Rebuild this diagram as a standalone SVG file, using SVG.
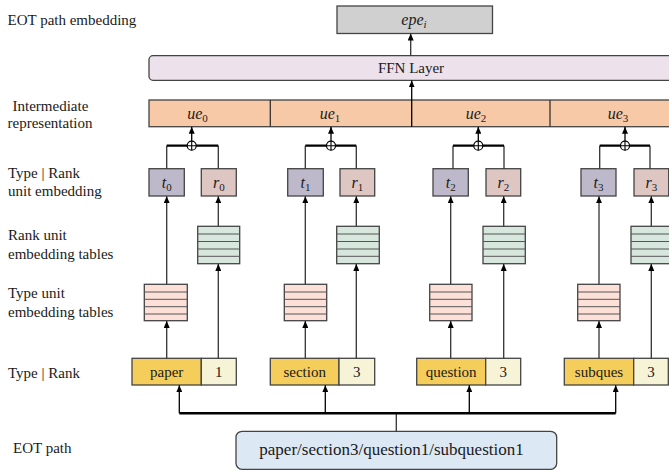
<svg xmlns="http://www.w3.org/2000/svg" width="669" height="471" viewBox="0 0 669 471">
<defs>
<style>
.lbl{font-family:"Liberation Serif","Times New Roman",serif;font-size:15px;fill:#1a1a1a}
.mid{text-anchor:middle}
.math{font-family:"Liberation Serif","Times New Roman",serif;font-style:italic;font-size:16px;fill:#1a1a1a;text-anchor:middle}
.sub{font-style:normal;font-size:11px}
.box{stroke:#444;stroke-width:1.3}
.tbox{fill:#bdb9cb}
.rbox{fill:#dec6c2}
.gtab{fill:#d7e7dd;stroke:#444;stroke-width:1.3}
.ptab{fill:#fde1d9;stroke:#444;stroke-width:1.3}
.row{stroke:#555;stroke-width:1}
.typ{fill:#f4cd5b}
.rnk{fill:#f7f3d6}
.ln{stroke:#333;stroke-width:1.3;fill:none}
.thick{stroke:#000;stroke-width:2.2;fill:none}
.bus{stroke:#000;stroke-width:2.6;fill:none}
</style>
<marker id="ah" viewBox="0 0 7 6" refX="7" refY="3" markerWidth="7" markerHeight="6" markerUnits="userSpaceOnUse" orient="auto">
<path d="M0,0 L7,3 L0,6 z" fill="#000"/>
</marker>
</defs>
<rect width="669" height="471" fill="#fff"/>

<!-- left labels -->
<g id="labels">
<text class="lbl" x="7.5" y="25">EOT path embedding</text>
<text class="lbl" x="12.5" y="111">Intermediate</text>
<text class="lbl" x="7.5" y="127.5">representation</text>
<text class="lbl" x="8" y="177.5">Type | Rank</text>
<text class="lbl" x="8" y="195.5">unit embedding</text>
<text class="lbl" x="8" y="240">Rank unit</text>
<text class="lbl" x="8" y="258.5">embedding tables</text>
<text class="lbl" x="8" y="298">Type unit</text>
<text class="lbl" x="8" y="316.5">embedding tables</text>
<text class="lbl" x="8" y="377.5">Type | Rank</text>
<text class="lbl" x="13" y="453">EOT path</text>
</g>

<g id="epe">
<rect x="337" y="6" width="155.5" height="27.5" fill="#d0d0d0" stroke="#444" stroke-width="1.3"/>
<text class="math" x="414" y="24.5">epe<tspan class="sub" dy="3" style="font-style:italic">i</tspan></text>
</g>

<g id="ffn">
<rect x="149" y="55.7" width="530" height="24.6" rx="4" fill="#ede2ec" stroke="#444" stroke-width="1.3"/>
<text class="lbl mid" x="411" y="72.5">FFN Layer</text>
</g>

<g id="ue">
<rect x="149" y="100" width="530" height="26.7" fill="#f7c9a7" stroke="#444" stroke-width="1.3"/>
<line x1="270.3" y1="100" x2="270.3" y2="126.7" class="ln"/>
<line x1="550" y1="100" x2="550" y2="126.7" class="ln"/>
<text class="math" x="197.5" y="118.5">ue<tspan class="sub" dy="3">0</tspan></text>
<text class="math" x="330" y="118.5">ue<tspan class="sub" dy="3">1</tspan></text>
<text class="math" x="476" y="118.5">ue<tspan class="sub" dy="3">2</tspan></text>
<text class="math" x="618" y="118.5">ue<tspan class="sub" dy="3">3</tspan></text>
</g>

<!-- unit embeddings -->
<g id="t0"><rect class="box tbox" x="149" y="168.7" width="35.3" height="27.3"/><text class="math" x="166.7" y="188">t<tspan class="sub" dy="3">0</tspan></text></g>
<g id="r0"><rect class="box rbox" x="201.3" y="168.7" width="35" height="27.3"/><text class="math" x="218.8" y="188">r<tspan class="sub" dy="3">0</tspan></text></g>
<g id="t1"><rect class="box tbox" x="287.7" y="168.7" width="35.6" height="27.3"/><text class="math" x="305.5" y="188">t<tspan class="sub" dy="3">1</tspan></text></g>
<g id="r1"><rect class="box rbox" x="340" y="168.7" width="34.7" height="27.3"/><text class="math" x="357.3" y="188">r<tspan class="sub" dy="3">1</tspan></text></g>
<g id="t2"><rect class="box tbox" x="433" y="168.7" width="35.3" height="27.3"/><text class="math" x="450.7" y="188">t<tspan class="sub" dy="3">2</tspan></text></g>
<g id="r2"><rect class="box rbox" x="486" y="168.7" width="34.7" height="27.3"/><text class="math" x="503.4" y="188">r<tspan class="sub" dy="3">2</tspan></text></g>
<g id="t3"><rect class="box tbox" x="581" y="168.7" width="35" height="27.3"/><text class="math" x="598.5" y="188">t<tspan class="sub" dy="3">3</tspan></text></g>
<g id="r3"><rect class="box rbox" x="634" y="168.7" width="34.7" height="27.3"/><text class="math" x="651.3" y="188">r<tspan class="sub" dy="3">3</tspan></text></g>

<!-- rank embedding tables -->
<g id="rank_table_0"><rect class="gtab" x="197.7" y="226.3" width="42" height="37.4"/><path class="row" d="M197.7,234H239.7M197.7,241.5H239.7M197.7,249H239.7M197.7,256.3H239.7"/></g>
<g id="rank_table_1"><rect class="gtab" x="336.7" y="226.3" width="42.6" height="37.4"/><path class="row" d="M336.7,234H379.3M336.7,241.5H379.3M336.7,249H379.3M336.7,256.3H379.3"/></g>
<g id="rank_table_2"><rect class="gtab" x="483" y="226.3" width="42.3" height="37.4"/><path class="row" d="M483,234H525.3M483,241.5H525.3M483,249H525.3M483,256.3H525.3"/></g>
<g id="rank_table_3"><rect class="gtab" x="631" y="226.3" width="42.3" height="37.4"/><path class="row" d="M631,234H673.3M631,241.5H673.3M631,249H673.3M631,256.3H673.3"/></g>

<!-- type embedding tables -->
<g id="type_table_0"><rect class="ptab" x="144.3" y="284.3" width="43" height="36.4"/><path class="row" d="M144.3,292H187.3M144.3,299.3H187.3M144.3,306.7H187.3M144.3,314H187.3"/></g>
<g id="type_table_1"><rect class="ptab" x="284.3" y="284.3" width="42.4" height="36.4"/><path class="row" d="M284.3,292H326.7M284.3,299.3H326.7M284.3,306.7H326.7M284.3,314H326.7"/></g>
<g id="type_table_2"><rect class="ptab" x="429.7" y="284.3" width="42.3" height="36.4"/><path class="row" d="M429.7,292H472M429.7,299.3H472M429.7,306.7H472M429.7,314H472"/></g>
<g id="type_table_3"><rect class="ptab" x="577.7" y="284.3" width="42.3" height="36.4"/><path class="row" d="M577.7,292H620M577.7,299.3H620M577.7,306.7H620M577.7,314H620"/></g>

<!-- type | rank -->
<g id="tr0"><rect class="box typ" x="132" y="358.3" width="69.3" height="26.7"/><rect class="box rnk" x="201.3" y="358.3" width="35" height="26.7"/><text class="lbl mid" x="166.7" y="377.3">paper</text><text class="lbl mid" x="218.8" y="377.3">1</text></g>
<g id="tr1"><rect class="box typ" x="270.3" y="358.3" width="68.7" height="26.7"/><rect class="box rnk" x="339" y="358.3" width="35.7" height="26.7"/><text class="lbl mid" x="304.7" y="377.3">section</text><text class="lbl mid" x="356.8" y="377.3">3</text></g>
<g id="tr2"><rect class="box typ" x="416.7" y="358.3" width="69" height="26.7"/><rect class="box rnk" x="485.7" y="358.3" width="35" height="26.7"/><text class="lbl mid" x="451.2" y="377.3">question</text><text class="lbl mid" x="503.2" y="377.3">3</text></g>
<g id="tr3"><rect class="box typ" x="564.3" y="358.3" width="69.4" height="26.7"/><rect class="box rnk" x="633.7" y="358.3" width="34.6" height="26.7"/><text class="lbl mid" x="599" y="377.3">subques</text><text class="lbl mid" x="651" y="377.3">3</text></g>

<g id="eot_path">
<rect x="236" y="431.3" width="320.7" height="38" rx="6" fill="#dde8f5" stroke="#444" stroke-width="1.3"/>
<text class="lbl mid" x="391.5" y="454.5" style="font-size:17px">paper/section3/question1/subquestion1</text>
</g>

<g id="connectors">
<line class="ln" x1="410.7" y1="55.7" x2="410.7" y2="33.5" marker-end="url(#ah)"/>
<line class="ln" x1="411.7" y1="126.7" x2="411.7" y2="80.4" marker-end="url(#ah)" style="stroke:#000"/>
<g>
<path class="ln" d="M166.7,168.7V145.7M218.3,168.7V145.7"/>
<path class="thick" d="M166.7,145.7H218.3"/>
<circle cx="191.7" cy="145.7" r="4.5" fill="#fff" stroke="#000" stroke-width="1.2"/>
<path d="M187.2,145.7H196.2M191.7,141.2V150.2" stroke="#000" stroke-width="1.1"/>
<line class="ln" x1="191.7" y1="141.2" x2="191.7" y2="126.8" marker-end="url(#ah)" style="stroke:#000"/>
</g>
<g>
<path class="ln" d="M305.3,168.7V145.7M356.3,168.7V145.7"/>
<path class="thick" d="M305.3,145.7H356.3"/>
<circle cx="331" cy="145.7" r="4.5" fill="#fff" stroke="#000" stroke-width="1.2"/>
<path d="M326.5,145.7H335.5M331,141.2V150.2" stroke="#000" stroke-width="1.1"/>
<line class="ln" x1="331" y1="141.2" x2="331" y2="126.8" marker-end="url(#ah)" style="stroke:#000"/>
</g>
<g>
<path class="ln" d="M453,168.7V145.7M504,168.7V145.7"/>
<path class="thick" d="M453,145.7H504"/>
<circle cx="478.3" cy="145.7" r="4.5" fill="#fff" stroke="#000" stroke-width="1.2"/>
<path d="M473.8,145.7H482.8M478.3,141.2V150.2" stroke="#000" stroke-width="1.1"/>
<line class="ln" x1="478.3" y1="141.2" x2="478.3" y2="126.8" marker-end="url(#ah)" style="stroke:#000"/>
</g>
<g>
<path class="ln" d="M599.7,168.7V145.7M650,168.7V145.7"/>
<path class="thick" d="M599.7,145.7H650"/>
<circle cx="625" cy="145.7" r="4.5" fill="#fff" stroke="#000" stroke-width="1.2"/>
<path d="M620.5,145.7H629.5M625,141.2V150.2" stroke="#000" stroke-width="1.1"/>
<line class="ln" x1="625" y1="141.2" x2="625" y2="126.8" marker-end="url(#ah)" style="stroke:#000"/>
</g>
<line class="ln" x1="166.7" y1="284.3" x2="166.7" y2="196.2" marker-end="url(#ah)"/>
<line class="ln" x1="218.3" y1="226.3" x2="218.3" y2="196.2" marker-end="url(#ah)"/>
<line class="ln" x1="305.3" y1="284.3" x2="305.3" y2="196.2" marker-end="url(#ah)"/>
<line class="ln" x1="356.3" y1="226.3" x2="356.3" y2="196.2" marker-end="url(#ah)"/>
<line class="ln" x1="450.7" y1="284.3" x2="450.7" y2="196.2" marker-end="url(#ah)"/>
<line class="ln" x1="503.7" y1="226.3" x2="503.7" y2="196.2" marker-end="url(#ah)"/>
<line class="ln" x1="599" y1="284.3" x2="599" y2="196.2" marker-end="url(#ah)"/>
<line class="ln" x1="651.3" y1="226.3" x2="651.3" y2="196.2" marker-end="url(#ah)"/>
<line class="ln" x1="166.7" y1="358.3" x2="166.7" y2="320.9" marker-end="url(#ah)"/>
<line class="ln" x1="218.3" y1="358.3" x2="218.3" y2="263.9" marker-end="url(#ah)"/>
<line class="ln" x1="305.3" y1="358.3" x2="305.3" y2="320.9" marker-end="url(#ah)"/>
<line class="ln" x1="356.3" y1="358.3" x2="356.3" y2="263.9" marker-end="url(#ah)"/>
<line class="ln" x1="450.7" y1="358.3" x2="450.7" y2="320.9" marker-end="url(#ah)"/>
<line class="ln" x1="503.7" y1="358.3" x2="503.7" y2="263.9" marker-end="url(#ah)"/>
<line class="ln" x1="599" y1="358.3" x2="599" y2="320.9" marker-end="url(#ah)"/>
<line class="ln" x1="651.3" y1="358.3" x2="651.3" y2="263.9" marker-end="url(#ah)"/>
<line class="ln" x1="396.3" y1="431.3" x2="396.3" y2="413.3"/>
<path class="bus" d="M179.3,413.3H615.7"/>
<line class="ln" x1="179.3" y1="413.3" x2="179.3" y2="385.2" marker-end="url(#ah)" style="stroke:#000"/>
<line class="ln" x1="325.3" y1="413.3" x2="325.3" y2="385.2" marker-end="url(#ah)" style="stroke:#000"/>
<line class="ln" x1="469.3" y1="413.3" x2="469.3" y2="385.2" marker-end="url(#ah)" style="stroke:#000"/>
<line class="ln" x1="615.7" y1="413.3" x2="615.7" y2="385.2" marker-end="url(#ah)" style="stroke:#000"/>
</g>
</svg>
